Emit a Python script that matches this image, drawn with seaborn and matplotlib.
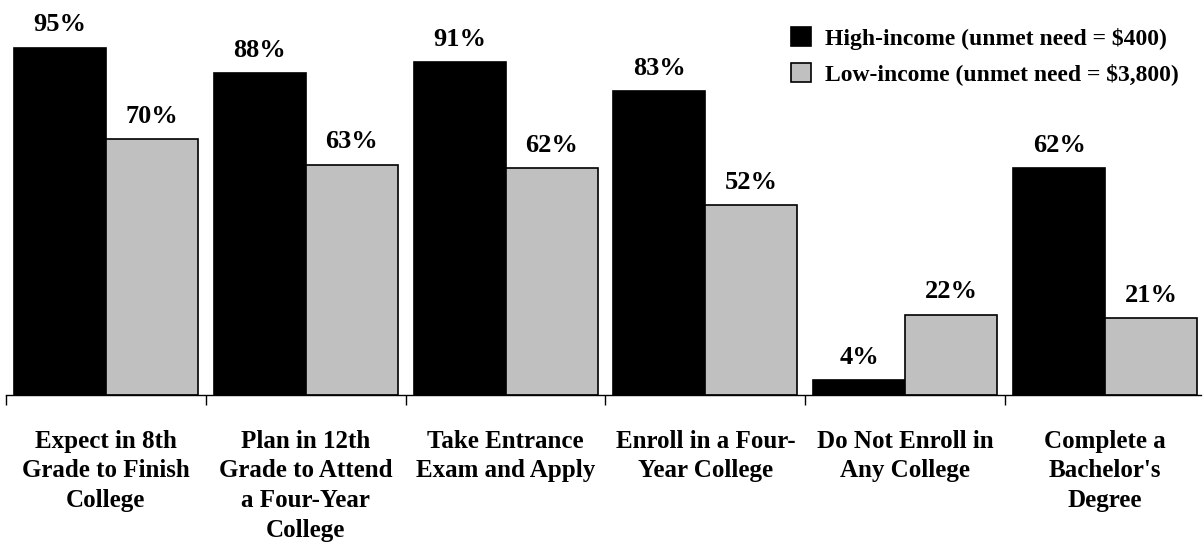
import matplotlib
matplotlib.use("Agg")
import matplotlib.pyplot as plt
import seaborn as sns
import pandas as pd

categories = ["Expect in 8th\nGrade to Finish\nCollege",
              "Plan in 12th\nGrade to Attend\na Four-Year\nCollege",
              "Take Entrance\nExam and Apply",
              "Enroll in a Four-\nYear College",
              "Do Not Enroll in\nAny College",
              "Complete a\nBachelor's\nDegree"]
high_income = [95, 88, 91, 83, 4, 62]
low_income = [70, 63, 62, 52, 22, 21]
series = ["High-income (unmet need = $400)", "Low-income (unmet need = $3,800)"]

df = pd.DataFrame({
    "cat": categories * 2,
    "val": high_income + low_income,
    "grp": [series[0]] * 6 + [series[1]] * 6,
})

FONT = "Liberation Serif"
sns.set_style("white")
plt.rcParams["font.family"] = [FONT, "DejaVu Serif"]
plt.rcParams["text.color"] = "black"
plt.rcParams["xtick.color"] = "black"
plt.rcParams["axes.edgecolor"] = "black"

fig = plt.figure(figsize=(12.03, 5.53), dpi=100)
ax = fig.add_axes([6 / 1203, 158 / 553, 1195 / 1203, 395 / 553])

sns.barplot(data=df, x="cat", y="val", hue="grp", order=categories,
            hue_order=series, palette=["#000000", "#c0c0c0"],
            edgecolor="black", linewidth=1.2, width=0.92, saturation=1,
            ax=ax)

for cont in ax.containers:
    ax.bar_label(cont, fmt="%d%%", padding=8, fontsize=19, fontweight="bold",
                 family=FONT, color="black")

ax.set_ylim(0, 108)
ax.set_xlim(-0.5, 5.48)
ax.set_xlabel("")
ax.set_ylabel("")
ax.set_yticks([])
for s in ["top", "right", "left"]:
    ax.spines[s].set_visible(False)
ax.spines["bottom"].set_linewidth(1)

ax.set_xticks(range(6))
ax.set_xticklabels(categories, fontsize=18, fontweight="bold", family=FONT,
                   color="black", linespacing=1.37)
ax.tick_params(axis="x", which="major", length=0, pad=25)
ax.set_xticks([i - 0.5 for i in range(6)], minor=True)
ax.tick_params(axis="x", which="minor", length=7, width=1, color="black",
               direction="out", bottom=True)

leg = ax.legend(loc="upper right", bbox_to_anchor=(0.999, 0.985), frameon=False,
                handlelength=0.85, handleheight=0.85,
                handletextpad=0.6, labelspacing=0.55,
                prop={"weight": "bold", "size": 17, "family": FONT})
for t in leg.get_texts():
    t.set_color("black")

fig.savefig("out.png", dpi=100)
